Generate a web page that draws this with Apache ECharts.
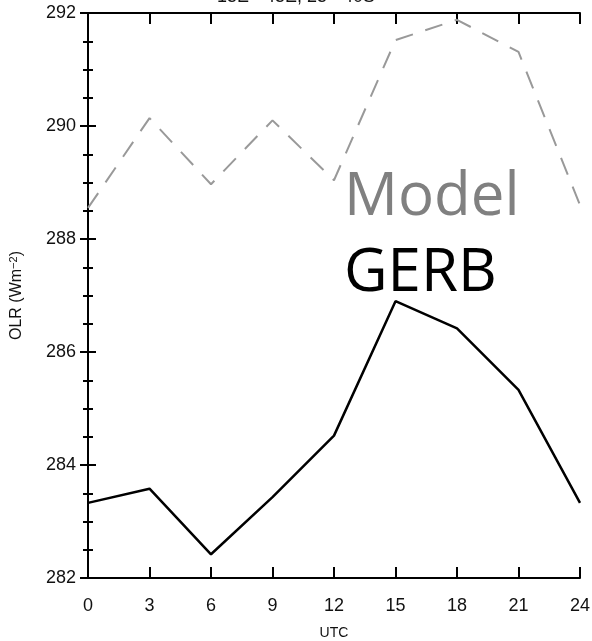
<!DOCTYPE html>
<html><head><meta charset="utf-8">
<script src="https://cdn.jsdelivr.net/npm/echarts@6/dist/echarts.min.js"></script>
<style>html,body{margin:0;padding:0;background:#fff}#c{width:592px;height:641px}</style>
</head><body><div id="c"></div>
<script>
const hours = [0, 3, 6, 9, 12, 15, 18, 21, 24];
const gerb = [283.33, 283.58, 282.42, 283.43, 284.52, 286.9, 286.42, 285.33, 283.33];
const model = [288.55, 290.14, 288.97, 290.1, 289.04, 291.52, 291.88, 291.31, 288.6];
const xTicks = [0, 3, 6, 9, 12, 15, 18, 21, 24];
const yTicks = [282, 284, 286, 288, 290, 292];
const titleText = '15E - 45E, 25 - 40S';

const chart = echarts.init(document.getElementById('c'));
const font = 'Liberation Sans, Arial, sans-serif';
const axisLine = {show: true, lineStyle: {color: '#000', width: 2}};
const xCommon = {
  type: 'value', min: 0, max: 24, interval: 3,
  axisLine: axisLine,
  axisTick: {show: true, inside: true, length: 11, lineStyle: {color: '#000', width: 2}},
  splitLine: {show: false}
};
const yCommon = {
  type: 'value', min: 282, max: 292, interval: 2,
  axisLine: axisLine,
  axisTick: {show: true, inside: true, length: 8, lineStyle: {color: '#000', width: 2}},
  minorTick: {show: true, splitNumber: 4, length: 5, lineStyle: {color: '#000', width: 2}},
  splitLine: {show: false}
};
chart.setOption({
  animation: false,
  grid: {left: 88, right: 12, top: 13, bottom: 63, containLabel: false, outerBoundsMode: 'none'},
  xAxis: [
    Object.assign({}, xCommon, {position: 'bottom',
      name: 'UTC', nameLocation: 'middle', nameGap: 48,
      nameTextStyle: {fontFamily: font, fontSize: 14, color: '#111'},
      axisLabel: {fontFamily: font, fontSize: 18, color: '#111', margin: 19,
        formatter: v => xTicks.includes(v) ? String(v) : ''}}),
    Object.assign({}, xCommon, {position: 'top', axisLabel: {show: false}})
  ],
  yAxis: [
    Object.assign({}, yCommon, {position: 'left',
      name: '{a|OLR (Wm}{s|−2}{a|)}', nameLocation: 'middle', nameGap: 63, nameRotate: 90,
      nameTextStyle: {fontFamily: font, fontSize: 16, color: '#111',
        rich: {a: {fontFamily: font, fontSize: 16, color: '#111'},
               s: {fontFamily: font, fontSize: 11, color: '#111', verticalAlign: 'top', padding: [0, 0, 6, 0]}}},
      axisLabel: {fontFamily: font, fontSize: 18, color: '#111', margin: 12,
        formatter: v => yTicks.includes(v) ? String(v) : ''}}),
    Object.assign({}, yCommon, {position: 'right', axisLabel: {show: false}})
  ],
  series: [
    {type: 'line', name: 'Model', data: hours.map((h, i) => [h, model[i]]),
     symbol: 'none', lineStyle: {color: '#999', width: 2, type: [18, 13]}},
    {type: 'line', name: 'GERB', data: hours.map((h, i) => [h, gerb[i]]),
     symbol: 'none', lineStyle: {color: '#000', width: 2.5}}
  ],
  graphic: [
    {type: 'text', left: 'center', top: -12, style: {text: titleText, font: '18px ' + font, fill: '#111'}},
    {type: 'text', left: 344, top: 168, style: {text: 'Model', font: '60px "Open Sans", sans-serif', fill: '#808080'}},
    {type: 'text', left: 344, top: 244, style: {text: 'GERB', font: '60px "Open Sans", sans-serif', fill: '#000'}}
  ]
});
</script></body></html>
